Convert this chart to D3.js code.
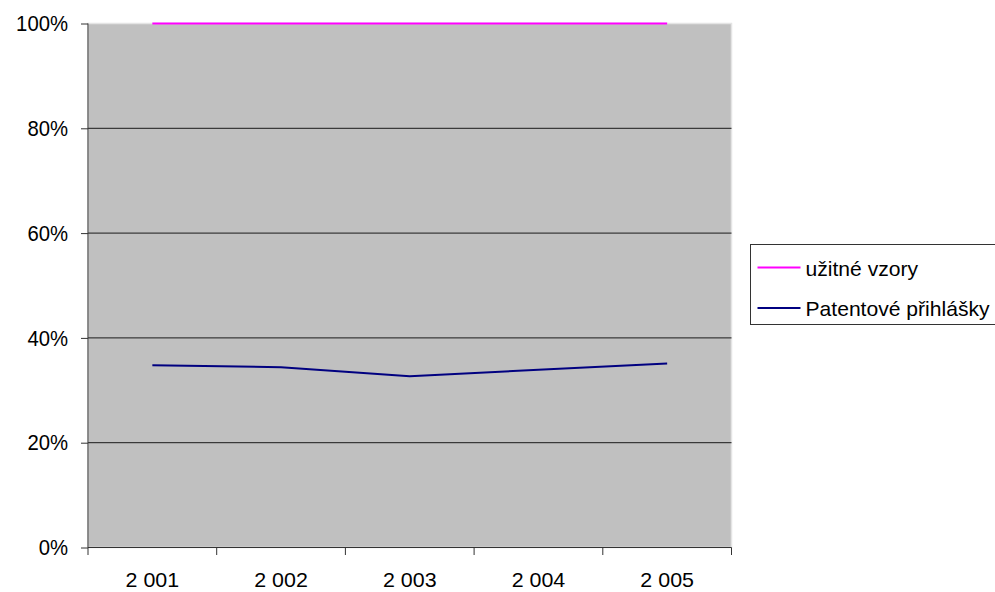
<!DOCTYPE html>
<html>
<head>
<meta charset="utf-8">
<script src="https://cdn.jsdelivr.net/npm/d3@7"></script>
<style>
  html, body { margin: 0; padding: 0; background: #fff; }
  svg { display: block; font-family: "Liberation Sans", Arial, sans-serif; }
</style>
</head>
<body>
<svg id="chart" width="995" height="592"></svg>
<script>
const years = ["2 001", "2 002", "2 003", "2 004", "2 005"];
const yTicks = [0, 0.2, 0.4, 0.6, 0.8, 1];
const uzitneVzory = [1, 1, 1, 1, 1];
const patentovePrihlasky = [0.348, 0.344, 0.327, 0.339, 0.351];
const seriesNames = ["užitné vzory", "Patentové přihlášky"];
const seriesColors = ["#ff00ff", "#000080"];

const svg = d3.select("#chart");
// plot area edges (don't call these top/left: window.top clashes)
const plotL = 88, plotR = 731.5, plotT = 23.5, plotB = 547.5;
const fontSize = 22.3;

const x = d3.scaleBand().domain(years).range([plotL, plotR]);
const y = d3.scaleLinear().domain([0, 1]).range([plotB, plotT]);

// the original text is a bit condensed, squeeze glyphs horizontally
function squeeze(sel, k) {
  sel.each(function () {
    const w = this.getComputedTextLength();
    d3.select(this)
      .attr("textLength", w * k)
      .attr("lengthAdjust", "spacingAndGlyphs");
  });
}

// plot area
svg.append("rect")
  .attr("x", plotL)
  .attr("y", plotT)
  .attr("width", plotR - plotL)
  .attr("height", plotB - plotT)
  .attr("fill", "#c0c0c0")
  .attr("stroke", "#e4e4e4")
  .attr("stroke-width", 1.5);

// gridlines (skip 0 and 100%)
svg.append("g")
  .selectAll("line")
  .data(yTicks.filter((d) => d > 0 && d < 1))
  .enter()
  .append("line")
  .attr("x1", plotL)
  .attr("x2", plotR)
  .attr("y1", (d) => y(d))
  .attr("y2", (d) => y(d))
  .attr("stroke", "#1a1a1a")
  .attr("stroke-width", 1);

// y axis
const yAxis = svg.append("g")
  .attr("transform", `translate(${plotL},0)`)
  .call(d3.axisLeft(y).tickValues(yTicks).tickSize(7).tickPadding(13)
    .tickFormat(d3.format(".0%")));
yAxis.select(".domain").attr("stroke", "#333").attr("d", `M0,${plotT}V${plotB}`);
yAxis.selectAll(".tick line").attr("stroke", "#333");
yAxis.selectAll("text")
  .attr("font-size", fontSize)
  .attr("fill", "#000")
  .attr("font-family", "Liberation Sans, Arial, sans-serif")
  .call(squeeze, 0.91);

// x axis, labels pulled up a touch so the descent stays inside the frame
const xAxis = svg.append("g")
  .attr("transform", `translate(0,${plotB})`)
  .call(d3.axisBottom(x).tickSize(0).tickPadding(24.5));
xAxis.select(".domain").attr("stroke", "#333").attr("d", `M${plotL},0H${plotR}`);
xAxis.selectAll("text")
  .attr("font-size", 21)
  .attr("fill", "#000")
  .attr("font-family", "Liberation Sans, Arial, sans-serif")
  .call(squeeze, 1.02);

// category boundary ticks
const bounds = years.map((d) => x(d)).concat([x(years[years.length - 1]) + x.bandwidth()]);
svg.append("g")
  .selectAll("line")
  .data(bounds)
  .enter()
  .append("line")
  .attr("x1", (d) => d)
  .attr("x2", (d) => d)
  .attr("y1", plotB)
  .attr("y2", plotB + 7.5)
  .attr("stroke", "#333");

// lines
const line = d3.line()
  .x((d, i) => x(years[i]) + x.bandwidth() / 2)
  .y((d) => y(d));

[uzitneVzory, patentovePrihlasky].forEach((s, i) => {
  svg.append("path")
    .datum(s)
    .attr("fill", "none")
    .attr("stroke", seriesColors[i])
    .attr("stroke-width", 2)
    .attr("d", line);
});

// legend (box runs off the right edge like the original)
const legend = svg.append("g").attr("transform", "translate(750.5,244.5)");
legend.append("rect")
  .attr("width", 260)
  .attr("height", 80)
  .attr("fill", "#fff")
  .attr("stroke", "#333")
  .attr("stroke-width", 1);

const item = legend.selectAll("g.item")
  .data(seriesNames)
  .enter()
  .append("g")
  .attr("class", "item")
  .attr("transform", (d, i) => `translate(0,${23 + i * 40.5})`);

item.append("line")
  .attr("x1", 7)
  .attr("x2", 50)
  .attr("stroke", (d, i) => seriesColors[i])
  .attr("stroke-width", 2);

item.append("text")
  .attr("x", 55)
  .attr("y", 8)
  .attr("font-size", 21.1)
  .attr("fill", "#000")
  .text((d) => d);
</script>
</body>
</html>
